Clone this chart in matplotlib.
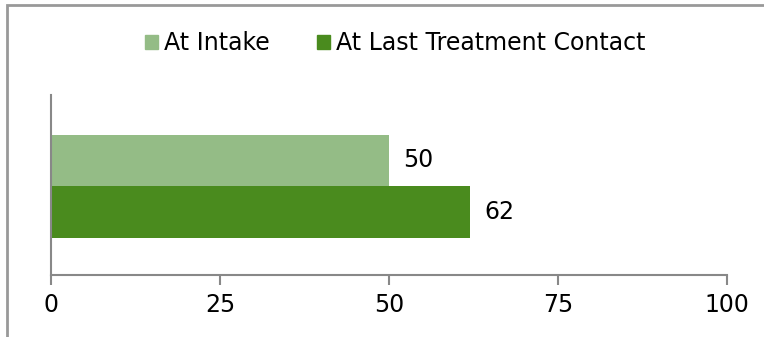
import matplotlib
matplotlib.use("Agg")
import matplotlib.pyplot as plt
from matplotlib.patches import Rectangle, Patch

series_names = ["At Intake", "At Last Treatment Contact"]
values = [50, 62]
colors = ["#94BC86", "#4A8B1E"]
xticks = [0, 25, 50, 75, 100]

plt.rcParams['font.family'] = ['DejaVu Sans']

fig = plt.figure(figsize=(7.64, 3.37), dpi=100)
ax = fig.add_axes([51/764, 1-275/337, (727-51)/764, (275-95)/337])

offsets = [0.5, -0.5]
for name, v, c, off in zip(series_names, values, colors, offsets):
    ax.barh(off, v, height=1.0, color=c, label=name)
    ax.annotate(f"{v}", xy=(v, off), xytext=(10, 0), textcoords="offset points",
                va="center", ha="left", fontsize=17, color="black")

ax.set_xlim(0, 100)
ax.set_ylim(-1.727, 1.769)
ax.set_xticks(xticks)
ax.set_xticklabels([str(t) for t in xticks], fontsize=17)
ax.set_yticks([])
for s in ["top", "right"]:
    ax.spines[s].set_visible(False)
for s in ["left", "bottom"]:
    ax.spines[s].set_color("#888888")
    ax.spines[s].set_linewidth(1.5)
ax.tick_params(axis="x", direction="out", length=7, width=1.5, color="#888888", pad=6)

handles = [Patch(color=c, label=n) for n, c in zip(series_names, colors)]
fig.legend(handles=handles, loc="center", bbox_to_anchor=(395/764, 1-43/337), ncol=2,
           frameon=False, fontsize=17, handlelength=0.55, handleheight=0.55,
           handletextpad=0.25, columnspacing=2.0)

fig.patches.append(Rectangle((7/764, -0.1), 1.2, 1-5/337+0.1, transform=fig.transFigure,
                             fill=False, edgecolor="#999999", linewidth=2))

fig.savefig("out.png", dpi=100)
